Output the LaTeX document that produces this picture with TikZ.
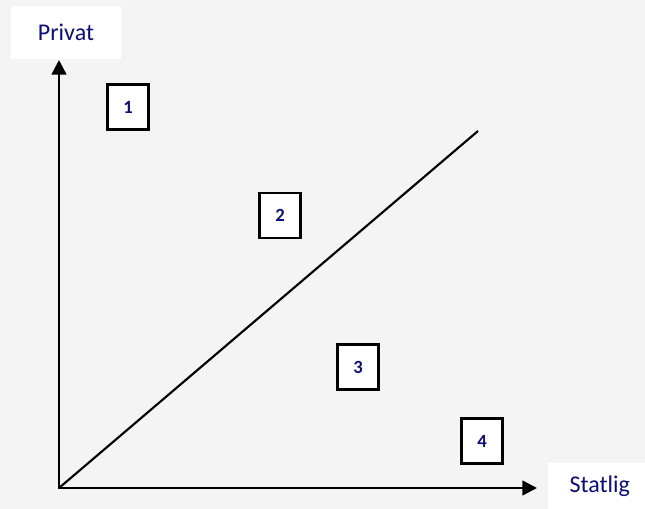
\documentclass[tikz,border=0pt]{standalone}
\usepackage{fontspec}
\setmainfont{Carlito}
\usepackage{tikz}
\usetikzlibrary{arrows.meta, positioning}
\definecolor{bggray}{HTML}{F4F4F4}
\definecolor{navytext}{HTML}{0E0E78}

\begin{document}
\begin{tikzpicture}[x=0.75pt, y=-0.75pt, >={Triangle[length=11pt,width=11pt]},
    region/.style={draw=black, line width=1.9pt, fill=white, minimum width=31pt,
        minimum height=33.5pt, inner sep=0pt, text=navytext,
        font=\bfseries\fontsize{14}{16}\selectfont},
    axislabel/.style={fill=white, inner sep=0pt, text=navytext,
        font=\fontsize{18}{21}\selectfont}]
    % Hintergrund
    \useasboundingbox (0,0) rectangle (645,509);
    \fill[bggray] (0,0) rectangle (645,509);

    % Achsen
    \coordinate (O) at (59,488);
    \coordinate (ytop) at (59,60);
    \coordinate (xend) at (537,488);
    \coordinate (dend) at (478,131);
    \node[axislabel, minimum width=82.5pt, minimum height=39.75pt] (privat) at (66,32.5) {Privat};
    \node[axislabel, minimum width=72.75pt, minimum height=34.5pt,
        text width=72.75pt, align=center] (statlig) at (596.5,486) {\hspace*{5pt}Statlig};
    \draw[<->, line width=1.9pt, line join=miter] (ytop) -- (O) -- (xend);

    % Diagonale
    \draw[line width=1.6pt] (O) -- (dend);

    % Felder
    \node[region] (r1) at (128,107) {1};
    \node[region] (r2) at (280,215.5) {2};
    \node[region] (r3) at (358,367) {3};
    \node[region] (r4) at (482,441) {4};
\end{tikzpicture}
\end{document}
